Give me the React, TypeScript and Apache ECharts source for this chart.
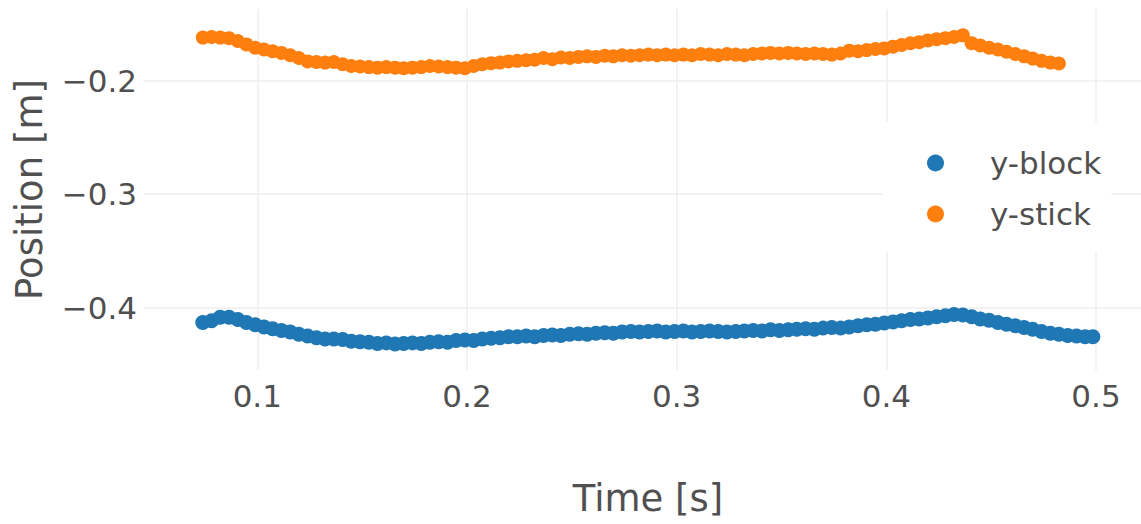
import { useEffect, useRef } from "react";
import * as echarts from "echarts";

// Time stamps [s]
const time = [
  0.0740, 0.0782, 0.0823, 0.0865, 0.0907, 0.0948, 0.0990, 0.1032, 0.1073, 0.1115,
  0.1157, 0.1198, 0.1240, 0.1282, 0.1323, 0.1365, 0.1407, 0.1448, 0.1490, 0.1532,
  0.1573, 0.1615, 0.1657, 0.1698, 0.1740, 0.1782, 0.1823, 0.1865, 0.1907, 0.1948,
  0.1990, 0.2032, 0.2073, 0.2115, 0.2157, 0.2198, 0.2240, 0.2282, 0.2323, 0.2365,
  0.2407, 0.2448, 0.2490, 0.2532, 0.2573, 0.2615, 0.2657, 0.2698, 0.2740, 0.2782,
  0.2823, 0.2865, 0.2907, 0.2948, 0.2990, 0.3032, 0.3073, 0.3115, 0.3157, 0.3198,
  0.3240, 0.3282, 0.3323, 0.3365, 0.3407, 0.3448, 0.3490, 0.3532, 0.3573, 0.3615,
  0.3657, 0.3698, 0.3740, 0.3782, 0.3823, 0.3865, 0.3907, 0.3948, 0.3990, 0.4032,
  0.4073, 0.4115, 0.4157, 0.4198, 0.4240, 0.4282, 0.4323, 0.4365, 0.4407, 0.4448,
  0.4490, 0.4532, 0.4573, 0.4615, 0.4657, 0.4698, 0.4740, 0.4782, 0.4823, 0.4865,
  0.4907, 0.4948, 0.4985,
];

// y-block position [m]
const yBlock = [
  -0.4130, -0.4115, -0.4085, -0.4085, -0.4105, -0.4130, -0.4150, -0.4170, -0.4185, -0.4200,
  -0.4215, -0.4235, -0.4250, -0.4265, -0.4275, -0.4275, -0.4280, -0.4295, -0.4300, -0.4305,
  -0.4315, -0.4310, -0.4320, -0.4315, -0.4310, -0.4315, -0.4305, -0.4300, -0.4305, -0.4290,
  -0.4285, -0.4290, -0.4275, -0.4270, -0.4265, -0.4255, -0.4255, -0.4250, -0.4255, -0.4245,
  -0.4240, -0.4245, -0.4235, -0.4230, -0.4235, -0.4225, -0.4220, -0.4225, -0.4215, -0.4210,
  -0.4215, -0.4210, -0.4205, -0.4215, -0.4210, -0.4205, -0.4215, -0.4210, -0.4205, -0.4210,
  -0.4215, -0.4210, -0.4205, -0.4200, -0.4205, -0.4195, -0.4200, -0.4195, -0.4190, -0.4185,
  -0.4190, -0.4180, -0.4175, -0.4180, -0.4170, -0.4160, -0.4150, -0.4145, -0.4135, -0.4125,
  -0.4115, -0.4105, -0.4100, -0.4090, -0.4080, -0.4070, -0.4060, -0.4065, -0.4080, -0.4100,
  -0.4110, -0.4130, -0.4145, -0.4160, -0.4175, -0.4190, -0.4210, -0.4225, -0.4235, -0.4245,
  -0.4250, -0.4255, -0.4255,
];

// y-stick position [m]
const yStick = [
  -0.1620, -0.1615, -0.1620, -0.1625, -0.1650, -0.1680, -0.1710, -0.1725, -0.1740, -0.1755,
  -0.1775, -0.1800, -0.1830, -0.1835, -0.1840, -0.1835, -0.1855, -0.1870, -0.1875, -0.1880,
  -0.1885, -0.1880, -0.1885, -0.1890, -0.1885, -0.1880, -0.1870, -0.1875, -0.1880, -0.1885,
  -0.1890, -0.1870, -0.1855, -0.1845, -0.1840, -0.1830, -0.1825, -0.1820, -0.1815, -0.1800,
  -0.1810, -0.1795, -0.1800, -0.1790, -0.1785, -0.1790, -0.1780, -0.1785, -0.1775, -0.1780,
  -0.1775, -0.1770, -0.1775, -0.1770, -0.1775, -0.1770, -0.1775, -0.1765, -0.1770, -0.1775,
  -0.1765, -0.1770, -0.1775, -0.1765, -0.1760, -0.1755, -0.1760, -0.1755, -0.1760, -0.1765,
  -0.1760, -0.1765, -0.1770, -0.1760, -0.1735, -0.1740, -0.1730, -0.1720, -0.1715, -0.1700,
  -0.1685, -0.1670, -0.1660, -0.1645, -0.1635, -0.1625, -0.1615, -0.1600, -0.1670, -0.1690,
  -0.1710, -0.1725, -0.1745, -0.1765, -0.1785, -0.1805, -0.1825, -0.1840, -0.1848,
];

const xTicks = [0.1, 0.2, 0.3, 0.4, 0.5];
const yTicks = [-0.2, -0.3, -0.4];
const seriesNames = ["y-block", "y-stick"];
const colors = ["#1f77b4", "#ff7f0e"];

const FONT = "'DejaVu Sans', Verdana, sans-serif";

export default function App() {
  const ref = useRef<HTMLDivElement>(null);

  useEffect(() => {
    document.body.style.margin = "0";
    if (!ref.current) return;
    const chart = echarts.init(ref.current, null, { renderer: "svg" });
    const isTick = (arr: number[], v: number) => arr.some((t) => Math.abs(t - v) < 1e-9);
    const fmt = (v: number) => (v < 0 ? "\u2212" : "") + Math.abs(v).toFixed(1);

    chart.setOption({
      animation: false,
      backgroundColor: "#ffffff",
      grid: { left: 144, right: 0, top: 9, bottom: 154, containLabel: false },
      xAxis: {
        type: "value",
        min: 0.04596,
        max: 0.52146,
        axisLine: { show: false },
        axisTick: { show: false },
        splitLine: { show: false },
        axisLabel: {
          showMinLabel: false,
          showMaxLabel: false,
          margin: 10,
          fontSize: 31,
          color: "#505050",
          fontFamily: FONT,
          formatter: (v: number) => (isTick(xTicks, v) ? fmt(v) : ""),
        },
        name: "Time [s]",
        nameLocation: "middle",
        nameGap: 110,
        nameTextStyle: { fontSize: 37, color: "#505050", fontFamily: FONT, padding: [0, 0, 0, 11] },
      },
      yAxis: {
        type: "value",
        min: -0.4549,
        max: -0.1368,
        axisLine: { show: false },
        axisTick: { show: false },
        splitLine: { show: false },
        axisLabel: {
          showMinLabel: false,
          showMaxLabel: false,
          margin: 7,
          fontSize: 31,
          color: "#505050",
          fontFamily: FONT,
          formatter: (v: number) => (isTick(yTicks, v) ? fmt(v) : ""),
        },
        name: "Position [m]",
        nameLocation: "middle",
        nameGap: 96,
        nameTextStyle: { fontSize: 37, color: "#505050", fontFamily: FONT },
      },
      legend: {
        data: seriesNames,
        orient: "vertical",
        left: 882,
        top: 122,
        icon: "circle",
        itemWidth: 17,
        itemHeight: 17,
        itemGap: 17,
        backgroundColor: "#ffffff",
        padding: [24, 10, 21, 45],
        textStyle: {
          fontSize: 31,
          color: "#505050",
          fontFamily: FONT,
          lineHeight: 34,
          padding: [0, 0, 0, 41],
        },
        z: 10,
      },
      series: [
        {
          name: seriesNames[0],
          type: "scatter",
          symbol: "circle",
          symbolSize: 15,
          itemStyle: { color: colors[0], opacity: 1 },
          data: time.map((t, i) => [t, yBlock[i]]),
          z: 3,
          markLine: {
            silent: true,
            z: 1,
            symbol: ["none", "none"],
            label: { show: false },
            lineStyle: { color: "#eeeeee", width: 1.5, type: "solid" },
            emphasis: { disabled: true },
            data: [
              ...xTicks.map((v) => ({ xAxis: v })),
              ...yTicks.map((v) => ({ yAxis: v })),
            ],
          },
        },
        {
          name: seriesNames[1],
          type: "scatter",
          symbol: "circle",
          symbolSize: 14,
          itemStyle: { color: colors[1], opacity: 1 },
          data: yStick.map((v, i) => [time[i], v]),
          z: 3,
        },
      ],
    });

    return () => chart.dispose();
  }, []);

  return <div ref={ref} style={{ width: 1141, height: 524 }} />;
}
